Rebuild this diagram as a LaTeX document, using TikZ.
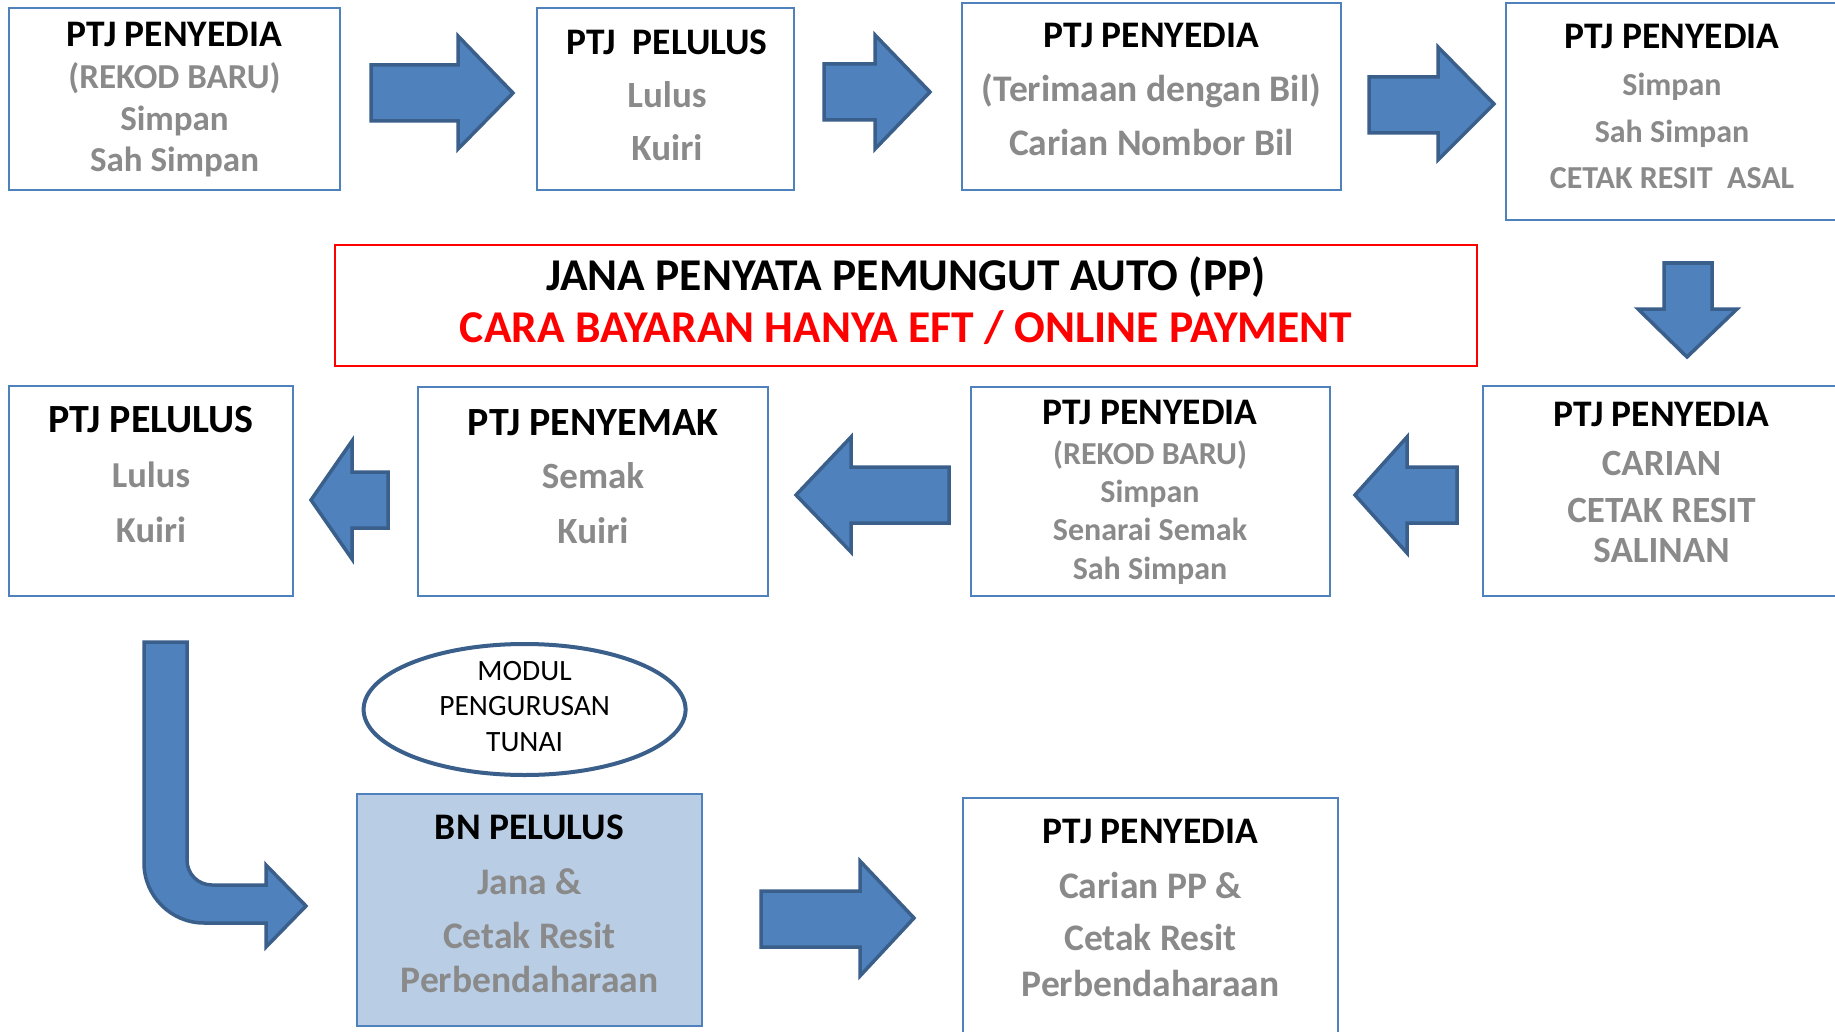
\documentclass[tikz,border=0pt]{standalone}
\usepackage{fontspec}
\setmainfont{Carlito}
\usetikzlibrary{shapes.geometric}
\definecolor{boxblue}{HTML}{4F81BD}
\definecolor{arrfill}{HTML}{4F81BD}
\definecolor{arrline}{HTML}{3A5F8B}
\definecolor{txtgray}{HTML}{8A8A8A}
\definecolor{bnfill}{HTML}{B9CDE5}
\definecolor{redline}{HTML}{FF0000}
\tikzset{
  box/.style={draw=boxblue, line width=2.5pt, inner sep=0pt, outer sep=0pt, anchor=north west},
  blk/.style={fill=arrfill, draw=arrline, line width=3.5pt, line join=miter},
  fs/.style={font=\bfseries\fontsize{#1}{#1}\selectfont},
  ttl/.style={anchor=base, inner sep=0pt, text=black, fs=#1},
  gry/.style={anchor=base, inner sep=0pt, text=txtgray, fs=#1},
  ell/.style={anchor=base, inner sep=0pt, font=\fontsize{29.5}{29.5}\selectfont},
}
\begin{document}
\begin{tikzpicture}[x=1pt,y=-1pt]
\useasboundingbox (0,0) rectangle (1835,1032);
\fill[white] (0,0) rectangle (1835,1032);
\clip (0,0) rectangle (1835,1032);

% ---------- boxes ----------
\node[box, minimum width=331, minimum height=182] (bA) at (9,8) {};
\node[box, minimum width=257, minimum height=182] (bB) at (537,8) {};
\node[box, minimum width=379, minimum height=187] (bC) at (962,3) {};
\node[box, minimum width=360, minimum height=217] (bD) at (1506,3) {};
\node[box, draw=redline, minimum width=1142, minimum height=121] (bR) at (335,245) {};
\node[box, minimum width=284, minimum height=210] (bE) at (9,386) {};
\node[box, minimum width=350, minimum height=209] (bF) at (418,387) {};
\node[box, minimum width=359, minimum height=209] (bG) at (971,387) {};
\node[box, minimum width=380, minimum height=210] (bH) at (1483,386) {};
\node[box, fill=bnfill, minimum width=345, minimum height=232] (bN) at (357,794) {};
\node[box, minimum width=375, minimum height=260] (bJ) at (963,798) {};
\node[ellipse, draw=arrline, line width=4pt, inner sep=0pt, minimum width=322, minimum height=131] (ell) at (524.6,709.5) {};

% ---------- block arrows ----------
% row 1 (right)
\draw[blk] (371,65) -- (458,65) -- (458,36) -- (513,93) -- (458,149) -- (458,121) -- (371,121) -- cycle;
\draw[blk] (824,64) -- (875,64) -- (875,35) -- (930,92) -- (875,149) -- (875,120) -- (824,120) -- cycle;
\draw[blk] (1369,77) -- (1438,77) -- (1438,47) -- (1494,104) -- (1438,160) -- (1438,133) -- (1369,133) -- cycle;
% down
\draw[blk] (1664,263) -- (1712,263) -- (1712,309) -- (1737,309) -- (1687,357) -- (1638,309) -- (1664,309) -- cycle;
% row 2 (left)
\draw[blk] (388,472) -- (352,472) -- (352,441) -- (311,500) -- (352,559) -- (352,528) -- (388,528) -- cycle;
\draw[blk] (949,467) -- (851,467) -- (851,437) -- (796,495) -- (851,552) -- (851,523) -- (949,523) -- cycle;
\draw[blk] (1457,467) -- (1407,467) -- (1407,437) -- (1355,495) -- (1407,553) -- (1407,523) -- (1457,523) -- cycle;
% bent arrow
\draw[blk] (144,642) -- (144,863) .. controls (144,896) and (171,923) .. (204,923)
  -- (266,923) -- (266,947) -- (306,906) -- (266,865) -- (266,885) -- (212,885)
  .. controls (198,885) and (187,874) .. (187,860) -- (187,642) -- cycle;
% bottom arrow
\draw[blk] (761,891) -- (860,891) -- (860,861) -- (914,918) -- (860,976) -- (860,947) -- (761,947) -- cycle;

% ---------- texts ----------
% box A
\node[ttl=37.5] (tA1) at (174.5,46.5) {PTJ PENYEDIA};
\node[gry=35] (tA2) at (174.5,88.5) {(REKOD BARU)};
\node[gry=35] (tA3) at (174.5,130.5) {Simpan};
\node[gry=35] (tA4) at (174.5,171.5) {Sah Simpan};
% box B
\node[ttl=37.5] (tB1) at (667,54.5) {PTJ\ \ PELULUS};
\node[gry=37] (tB2) at (667,107.5) {Lulus};
\node[gry=37] (tB3) at (667,161) {Kuiri};
% box C
\node[ttl=37.5] (tC1) at (1151.5,48) {PTJ PENYEDIA};
\node[gry=37.5] (tC2) at (1151.5,102) {(Terimaan dengan Bil)};
\node[gry=37.5] (tC3) at (1151.5,156) {Carian Nombor Bil};
% box D
\node[ttl=37.5] (tD1) at (1672,48.5) {PTJ PENYEDIA};
\node[gry=32] (tD2) at (1672,96) {Simpan};
\node[gry=32] (tD3) at (1672,143) {Sah Simpan};
\node[gry=32] (tD4) at (1672,188.5) {CETAK RESIT\ \ ASAL};
% red box
\node[ttl=45.5] (tR1) at (906,290) {JANA PENYATA PEMUNGUT AUTO (PP)};
\node[ttl=45.5, text=redline] (tR2) at (906,342) {CARA BAYARAN HANYA EFT / ONLINE PAYMENT};
% box E
\node[ttl=40] (tE1) at (151,432) {PTJ PELULUS};
\node[gry=36.5] (tE2) at (151,487) {Lulus};
\node[gry=36.5] (tE3) at (151,542) {Kuiri};
% box F
\node[ttl=40] (tF1) at (593,435) {PTJ PENYEMAK};
\node[gry=37] (tF2) at (593,488) {Semak};
\node[gry=37] (tF3) at (593,543) {Kuiri};
% box G
\node[ttl=37.5] (tG1) at (1150,424) {PTJ PENYEDIA};
\node[gry=32] (tG2) at (1150,464) {(REKOD BARU)};
\node[gry=32] (tG3) at (1150,502) {Simpan};
\node[gry=32] (tG4) at (1150,540.5) {Senarai Semak};
\node[gry=32] (tG5) at (1150,579) {Sah Simpan};
% box H
\node[ttl=37.5] (tH1) at (1661.5,426) {PTJ PENYEDIA};
\node[gry=37] (tH2) at (1661.5,475) {CARIAN};
\node[gry=37] (tH3) at (1661.5,522) {CETAK RESIT};
\node[gry=37] (tH4) at (1661.5,562) {SALINAN};
% ellipse
\node[ell] (tL1) at (524.6,680) {MODUL};
\node[ell] (tL2) at (524.6,715.5) {PENGURUSAN};
\node[ell] (tL3) at (524.6,751.5) {TUNAI};
% BN box
\node[ttl=37.5] (tN1) at (529.5,839) {BN PELULUS};
\node[gry=37.5] (tN2) at (529.5,894) {Jana \&};
\node[gry=37.5] (tN3) at (529.5,948) {Cetak Resit};
\node[gry=37.5] (tN4) at (529.5,992) {Perbendaharaan};
% box J
\node[ttl=37.5] (tJ1) at (1150.5,843) {PTJ PENYEDIA};
\node[gry=37.5] (tJ2) at (1150.5,898) {Carian PP \&};
\node[gry=37.5] (tJ3) at (1150.5,950.5) {Cetak Resit};
\node[gry=37.5] (tJ4) at (1150.5,996) {Perbendaharaan};
\end{tikzpicture}
\end{document}
